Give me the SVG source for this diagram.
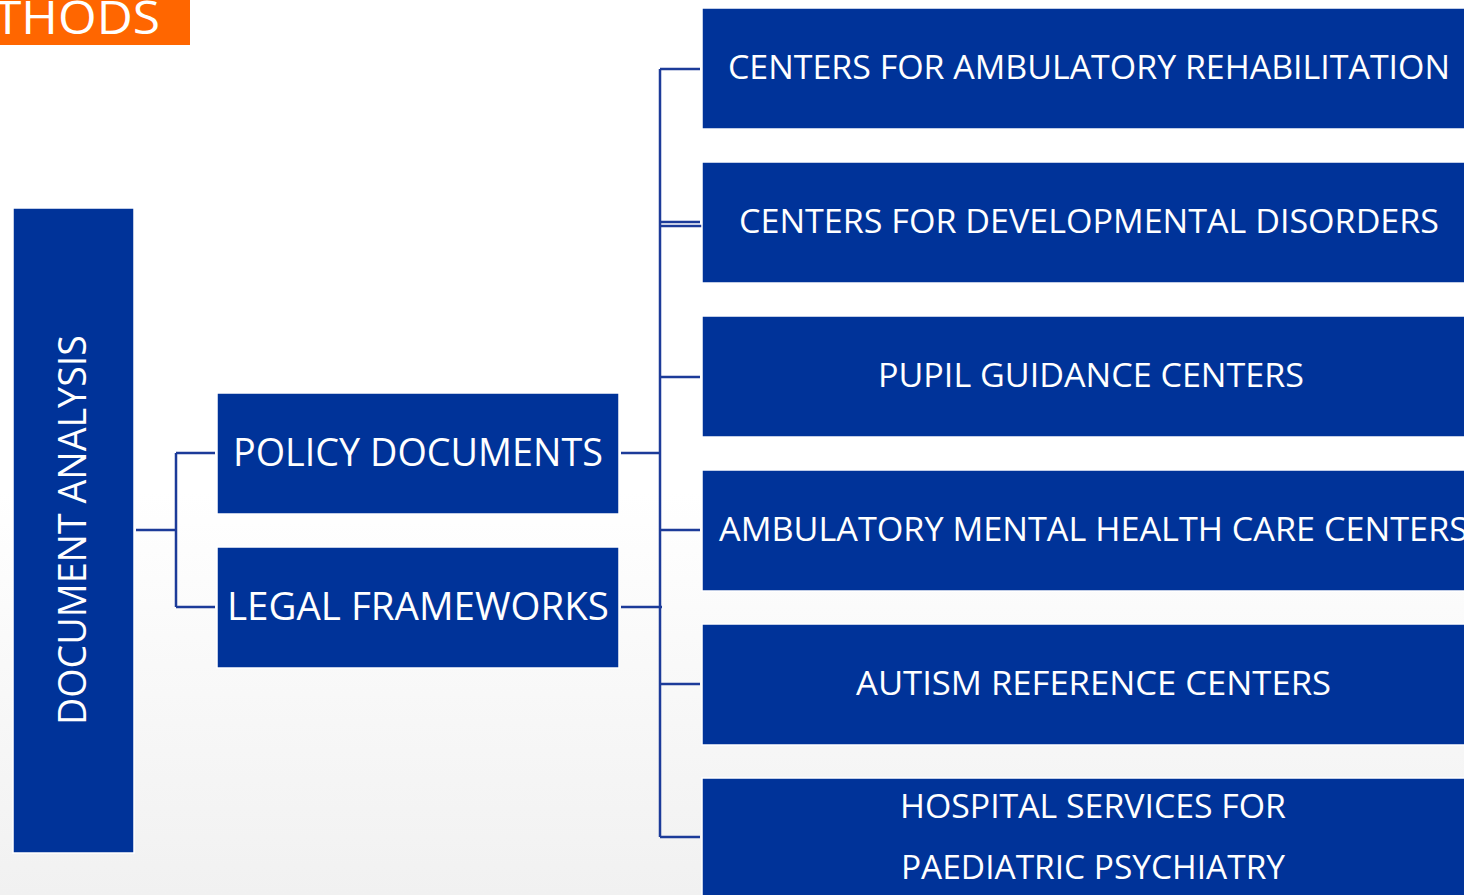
<svg xmlns="http://www.w3.org/2000/svg" width="1464" height="895" viewBox="0 0 1464 895">
<defs>
<linearGradient id="bg" x1="0" y1="0" x2="0" y2="1">
<stop offset="0" stop-color="#ffffff"/>
<stop offset="0.55" stop-color="#ffffff"/>
<stop offset="1" stop-color="#f1f1f1"/>
</linearGradient>
<style>
.box{fill:#003399;stroke:#ffffff;stroke-width:1.5}
.t{font-family:"Open Sans","Noto Sans","Liberation Sans",sans-serif;fill:#ffffff;text-anchor:start}
.big{font-size:39px}
.med{font-size:33px}
.con{fill:none;stroke:#1c3b99;stroke-width:2.5}
</style>
</defs>
<rect x="0" y="0" width="1464" height="895" fill="url(#bg)"/>
<g id="title">
<rect x="0" y="0" width="190" height="45" fill="#ff6600"/>
<text class="t" x="-6" y="34" font-size="46" textLength="166" lengthAdjust="spacingAndGlyphs">THODS</text>
</g>
<g id="connectors">
<path class="con" d="M136 530 H176 M176 453 V607 M176 453 H215 M176 607 H215"/>
<path class="con" d="M621 453 H660 M621 607 H662 M660 69 V837"/>
<path class="con" d="M660 69 H700 M660 222 H700 M660 226 H702 M660 377 H700 M660 530 H700 M660 684 H700 M660 837 H700"/>
</g>
<g id="n-document-analysis">
<rect class="box" x="13" y="208" width="121" height="645"/>
<text class="t big" transform="translate(86 725) rotate(-90)" x="0" y="0" textLength="390" lengthAdjust="spacingAndGlyphs">DOCUMENT ANALYSIS</text>
</g>
<g id="n-policy">
<rect class="box" x="217" y="393" width="402" height="121"/>
<text class="t big" x="233" y="466" textLength="370" lengthAdjust="spacingAndGlyphs">POLICY DOCUMENTS</text>
</g>
<g id="n-legal">
<rect class="box" x="217" y="547" width="402" height="121"/>
<text class="t big" x="227" y="620" textLength="382" lengthAdjust="spacingAndGlyphs">LEGAL FRAMEWORKS</text>
</g>
<g id="n-ambulatory-rehab">
<rect class="box" x="702" y="8" width="780" height="121"/>
<text class="t med" x="728" y="79" textLength="722" lengthAdjust="spacingAndGlyphs">CENTERS FOR AMBULATORY REHABILITATION</text>
</g>
<g id="n-developmental">
<rect class="box" x="702" y="162" width="780" height="121"/>
<text class="t med" x="739" y="233" textLength="700" lengthAdjust="spacingAndGlyphs">CENTERS FOR DEVELOPMENTAL DISORDERS</text>
</g>
<g id="n-pupil">
<rect class="box" x="702" y="316" width="780" height="121"/>
<text class="t med" x="878" y="387" textLength="426" lengthAdjust="spacingAndGlyphs">PUPIL GUIDANCE CENTERS</text>
</g>
<g id="n-mental-health">
<rect class="box" x="702" y="470" width="780" height="121"/>
<text class="t med" x="719" y="541" textLength="749" lengthAdjust="spacingAndGlyphs">AMBULATORY MENTAL HEALTH CARE CENTERS</text>
</g>
<g id="n-autism">
<rect class="box" x="702" y="624" width="780" height="121"/>
<text class="t med" x="856" y="695" textLength="475" lengthAdjust="spacingAndGlyphs">AUTISM REFERENCE CENTERS</text>
</g>
<g id="n-hospital">
<rect class="box" x="702" y="778" width="780" height="140"/>
<text class="t med" x="900" y="818" textLength="386" lengthAdjust="spacingAndGlyphs">HOSPITAL SERVICES FOR</text>
<text class="t med" x="901" y="879" textLength="384" lengthAdjust="spacingAndGlyphs">PAEDIATRIC PSYCHIATRY</text>
</g>
</svg>
